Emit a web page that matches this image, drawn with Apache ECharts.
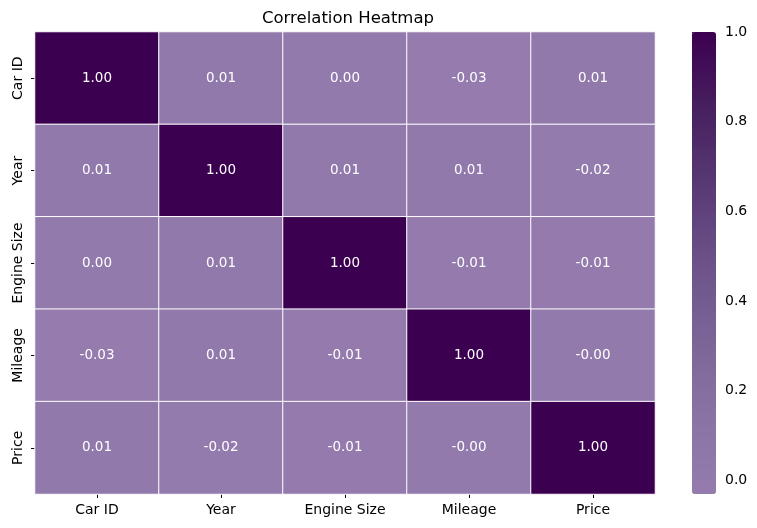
<!DOCTYPE html>
<html>
<head>
<meta charset="utf-8">
<script src="https://cdn.jsdelivr.net/npm/echarts@6/dist/echarts.min.js"></script>
<style>
  html, body { margin: 0; padding: 0; background: #fff; }
  #chart { width: 757px; height: 528px; }
</style>
</head>
<body>
<div id="chart"></div>
<script>
// 变量名称（行列相同）
var labels = ['Car ID', 'Year', 'Engine Size', 'Mileage', 'Price'];

// 相关系数矩阵，按行排列（-0.004 显示为 -0.00）
var corrRows = [
    [1.00, 0.01, 0.00, -0.03, 0.01],
    [0.01, 1.00, 0.01, 0.01, -0.02],
    [0.00, 0.01, 1.00, -0.01, -0.01],
    [-0.03, 0.01, -0.01, 1.00, -0.004],
    [0.01, -0.02, -0.01, -0.004, 1.00]
];

// 颜色条刻度
var barTicks = [0.0, 0.2, 0.4, 0.6, 0.8, 1.0];
var barMin = -0.03;
var barMax = 1.0;

var FONT = 'DejaVu Sans';

// 热力图数据 [列, 行, 值]
var heatData = [];
corrRows.forEach(function (row, r) {
    row.forEach(function (v, c) {
        heatData.push([c, r, v]);
    });
});

var chart = echarts.init(document.getElementById('chart'));

var option = {
    animation: false,
    textStyle: { fontFamily: FONT },
    title: {
        text: 'Correlation Heatmap',
        left: 257,
        top: 5,
        textStyle: { fontFamily: FONT, fontSize: 16.5, fontWeight: 'normal', color: '#000' }
    },
    grid: [
        { left: 35, top: 32, width: 620, height: 462 },   // 热力图
        { left: 692, top: 32, width: 24, height: 462 }    // 颜色条刻度
    ],
    xAxis: [
        {
            type: 'category', gridIndex: 0, data: labels,
            axisLine: { show: false },
            axisTick: { show: true, alignWithLabel: true, length: 4, lineStyle: { color: '#000' } },
            axisLabel: { color: '#000', fontSize: 14, fontFamily: FONT, margin: 9, interval: 0 },
            splitLine: { show: false }
        },
        { type: 'value', gridIndex: 1, show: false, min: 0, max: 1 }
    ],
    yAxis: [
        {
            type: 'category', gridIndex: 0, data: labels, inverse: true,
            axisLine: { show: false },
            axisTick: { show: true, alignWithLabel: true, length: 4, lineStyle: { color: '#000' } },
            axisLabel: { color: '#000', fontSize: 14, fontFamily: FONT, rotate: 90, margin: 10, interval: 0 },
            splitLine: { show: false }
        },
        {
            type: 'value', gridIndex: 1, position: 'right',
            min: barMin, max: barMax,
            axisLine: { show: false },
            splitLine: { show: false },
            axisTick: { show: true, length: 4, customValues: barTicks, lineStyle: { color: '#000' } },
            axisLabel: {
                color: '#000', fontSize: 14, fontFamily: FONT, margin: 9,
                customValues: barTicks,
                formatter: function (v) { return v.toFixed(1); }
            }
        }
    ],
    visualMap: {
        type: 'continuous',
        seriesIndex: 0,
        min: barMin,
        max: barMax,
        calculable: false,
        showLabel: false,
        text: ['', ''],
        left: 692,
        top: 32,
        itemWidth: 24,
        itemHeight: 462,
        padding: 0,
        inRange: {
            color: ['#957bae', '#8a73a4', '#7b6597', '#6c5289', '#583a74', '#47205f', '#3c0050']
        }
    },
    series: [
        {
            type: 'heatmap',
            xAxisIndex: 0,
            yAxisIndex: 0,
            data: heatData,
            itemStyle: { borderColor: '#fff', borderWidth: 1 },
            label: {
                show: true,
                color: '#fff',
                fontSize: 13.5,
                fontFamily: FONT,
                formatter: function (p) {
                    var v = p.value[2];
                    var s = v.toFixed(2);
                    if (v < 0 && s === '0.00') s = '-0.00';
                    return s;
                }
            },
            emphasis: { disabled: true }
        }
    ]
};

chart.setOption(option);
</script>
</body>
</html>
